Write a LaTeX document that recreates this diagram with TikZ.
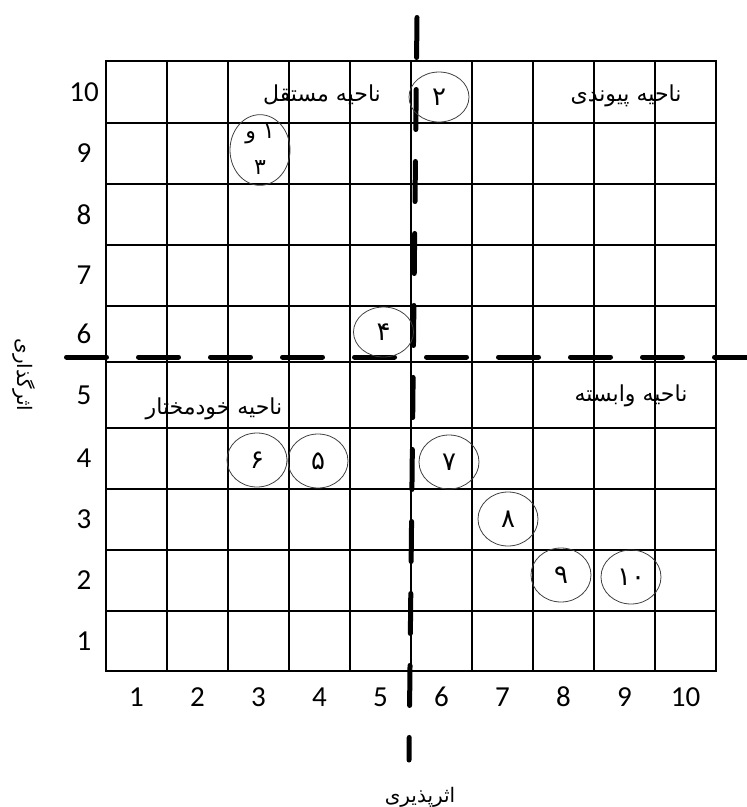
\documentclass[tikz,border=0pt]{standalone}
\usepackage{fontspec}
\setmainfont{Carlito}
\newfontfamily\farsi[Script=Arabic]{DejaVu Sans}
\TeXXeTstate=1
\usetikzlibrary{shapes.geometric}
\newcommand{\fa}[1]{{\farsi\beginR #1\endR}}

\begin{document}
\begin{tikzpicture}[
    x=1pt, y=-1pt,
    gridLine/.style={
        line width=2pt,
        black
    },
    dashAxis/.style={
        line width=5pt,
        line cap=round,
        dash pattern=on 40pt off 32pt
    },
    markCircle/.style={
        ellipse,
        draw=black!75,
        line width=0.8pt,
        minimum width=60pt,
        minimum height=54pt,
        inner sep=0pt,
        align=center,
        font=\fontsize{26}{28}\farsi
    },
    zoneLabel/.style={
        font=\fontsize{22}{24}\farsi
    },
    axisTitle/.style={
        font=\fontsize{20}{24}\farsi
    },
    axisNum/.style={
        font=\fontsize{29}{30}\selectfont
    }
]
\useasboundingbox (0,0) rectangle (747,807);

% Grille
\foreach \x in {167,228,289,350,411,472,533,594,655}
    \draw[gridLine] (\x,61) -- (\x,671);
\foreach \y in {122.5,184,245,306,362,428,489,550,611}
    \draw[gridLine] (106,\y) -- (716,\y);
\draw[gridLine] (106,61) rectangle (716,671);

% Graduations
\foreach \y/\n in {91.75/10,153.25/9,214.5/8,275.5/7,334/6,395/5,458.5/4,519.5/3,580.5/2,641/1}
    \node[axisNum] (r\n) at (84,\y) {\n};
\foreach \x/\n in {136.5/1,197.5/2,258.5/3,319.5/4,380.5/5,441.5/6,502.5/7,563.5/8,624.5/9,685.5/10}
    \node[axisNum] (c\n) at (\x,697) {\n};

% Axes en pointillés
\coordinate (hLeft) at (66.5,357);
\coordinate (hRight) at (752,357);
\coordinate (vTop) at (417,17.5);
\coordinate (vBottom) at (409,760);
\draw[dashAxis] (hLeft) -- (hRight);
\draw[dashAxis] (vTop) -- (vBottom);

% Zones
\node[zoneLabel] (zMostaghel) at (322,95) {\fa{ناحیه مستقل}};
\node[zoneLabel] (zPeyvandi) at (626,96) {\fa{ناحیه پیوندی}};
\node[zoneLabel] (zKhodmokhtar) at (214,409) {\fa{ناحیه خودمختار}};
\node[zoneLabel] (zVabaste) at (631,396) {\fa{ناحیه وابسته}};

% Titres des axes
\node[axisTitle, rotate=-90] (yTitle) at (24,375) {\fa{اثرگذاری}};
\node[axisTitle] (xTitle) at (420,797) {\fa{اثرپذیری}};

% Cercles
\node[markCircle, font=\fontsize{22}{24}\farsi] (m13) at (260,150) {\fa{۱ و}\\[12pt]\fa{۳}};
\node[markCircle, minimum height=50pt] (m2) at (439,97) {\fa{۲}};
\node[markCircle, minimum height=50pt] (m4) at (383.5,332) {\fa{۴}};
\node[markCircle] (m6) at (257,460) {\fa{۶}};
\node[markCircle] (m5) at (318,461) {\fa{۵}};
\node[markCircle] (m7) at (449,462) {\fa{۷}};
\node[markCircle] (m8) at (508,519) {\fa{۸}};
\node[markCircle] (m9) at (561,575) {\fa{۹}};
\node[markCircle] (m10) at (631,577) {\fa{۱۰}};

\end{tikzpicture}
\end{document}
